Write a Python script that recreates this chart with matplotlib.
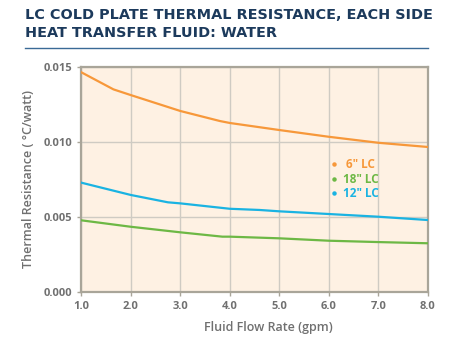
import matplotlib
matplotlib.use("Agg")
import matplotlib.pyplot as plt

# Flow rate (gpm) and thermal resistance (degC/W) for each cold plate
flow_6 = [1.0, 1.65, 2.0, 3.0, 3.8, 4.0, 5.0, 6.0, 7.0, 8.0]
res_6 = [0.01463, 0.01349, 0.01311, 0.01205, 0.01138, 0.01125, 0.01078, 0.01033, 0.00993, 0.00965]

flow_12 = [1.0, 2.0, 2.75, 3.0, 4.0, 4.6, 5.0, 6.0, 7.0, 8.0]
res_12 = [0.00727, 0.00645, 0.00596, 0.00589, 0.00553, 0.00545, 0.00536, 0.00518, 0.00500, 0.00478]

flow_18 = [1.0, 2.0, 3.0, 3.85, 4.0, 5.0, 6.0, 7.0, 8.0]
res_18 = [0.00476, 0.00433, 0.00396, 0.00367, 0.00367, 0.00356, 0.00340, 0.00331, 0.00323]

x_ticks = [1.0, 2.0, 3.0, 4.0, 5.0, 6.0, 7.0, 8.0]
y_ticks = [0.000, 0.005, 0.010, 0.015]

series_labels = ['6" LC', '18" LC', '12" LC']

ORANGE = "#F7983A"
GREEN = "#6DB845"
BLUE = "#1AB3E2"
NAVY = "#1C3A5C"
GRAY = "#707070"

plt.rcParams["font.family"] = ["Open Sans", "DejaVu Sans"]

fig = plt.figure(figsize=(4.63, 3.44), dpi=100)
ax = fig.add_axes([0.1756, 0.152, 0.7484, 0.654])
ax.set_facecolor("#FEF1E3")

ax.plot(flow_6, res_6, color=ORANGE, lw=1.6, zorder=3)
ax.plot(flow_12, res_12, color=BLUE, lw=1.6, zorder=3)
ax.plot(flow_18, res_18, color=GREEN, lw=1.6, zorder=3)

ax.set_xlim(1.0, 8.0)
ax.set_ylim(0.0, 0.015)
ax.set_xticks(x_ticks)
ax.set_yticks(y_ticks)
ax.set_xticklabels([f"{v:.1f}" for v in x_ticks])
ax.set_yticklabels([f"{v:.3f}" for v in y_ticks])
ax.grid(True, color="#CFCBC3", lw=1.0, zorder=0)
ax.set_axisbelow(True)

for side in ["left", "bottom", "top", "right"]:
    ax.spines[side].set_color("#A9A599")
    ax.spines[side].set_linewidth(1.6)

ax.tick_params(axis="both", colors="#A9A599", length=3, width=1,
               labelcolor=GRAY, labelsize=8)
for lab in ax.get_xticklabels() + ax.get_yticklabels():
    lab.set_fontweight("bold")

ax.set_xlabel("Fluid Flow Rate (gpm)", color=GRAY, fontsize=9,
              fontweight="semibold", labelpad=9)
ax.xaxis.set_label_coords(0.54, -0.13)
ax.set_ylabel("Thermal Resistance ( °C/watt)", color=GRAY, fontsize=9,
              fontweight="semibold", labelpad=6)

# Inline legend: dot + coloured label
legend_rows = [(0.00851, ORANGE), (0.00751, GREEN), (0.00658, BLUE)]
for (yv, col), text in zip(legend_rows, series_labels):
    ax.plot([6.11], [yv], marker="o", ms=2.2, color=col, zorder=4)
    ax.text(6.34 if text.startswith("6") else 6.29, yv, text, color=col,
            fontsize=8.5, fontweight="bold", va="center", ha="left", zorder=4)

title_font = dict(color=NAVY, fontsize=10.35, fontweight="bold", va="center",
                  ha="left", family=["DejaVu Sans"])
fig.text(0.054, 0.956, "LC COLD PLATE THERMAL RESISTANCE, EACH SIDE", **title_font)
fig.text(0.054, 0.905, "HEAT TRANSFER FLUID: WATER", **title_font)
fig.add_artist(plt.Line2D([0.054, 0.924], [0.860, 0.860], color="#3A6A96",
                          lw=1.0, transform=fig.transFigure))

fig.savefig("out.png", dpi=100, facecolor="white")
